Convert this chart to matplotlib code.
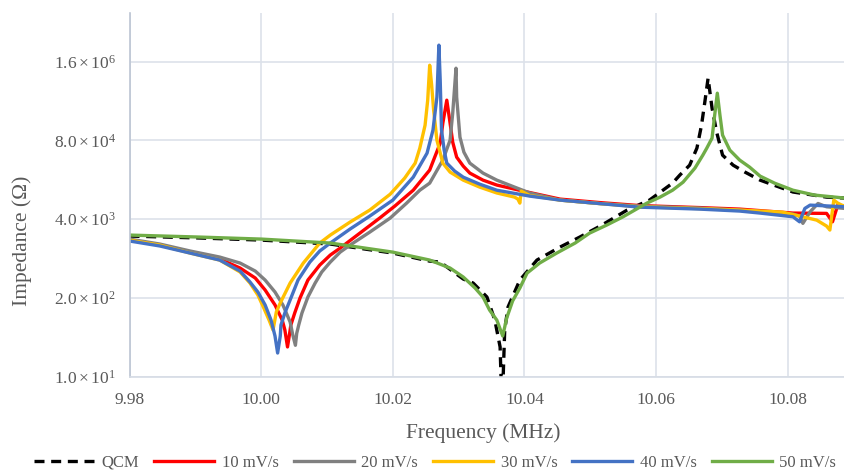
import matplotlib
matplotlib.use('agg')
import matplotlib.pyplot as plt

plt.rcParams['font.family'] = ['Liberation Serif', 'DejaVu Serif']
plt.rcParams['mathtext.fontset'] = 'custom'
plt.rcParams['mathtext.rm'] = 'Liberation Serif'
plt.rcParams['mathtext.it'] = 'Liberation Serif:italic'

# frequency (MHz) / impedance (ohm)
qcm_f = [9.9800, 9.9907, 10.0001, 10.0105, 10.0200, 10.0256, 10.0272, 10.0307, 10.0322, 10.0343,
         10.0355, 10.0363, 10.0365, 10.0367, 10.0370, 10.0375, 10.0393, 10.0419, 10.0454, 10.0484,
         10.0515, 10.0556, 10.0590, 10.0625, 10.0636, 10.0651, 10.0662, 10.0669, 10.0674, 10.0679,
         10.0685, 10.0692, 10.0701, 10.0717, 10.0735, 10.0758, 10.0808, 10.0859, 10.0887]
qcm_z = [2100, 1950, 1800, 1550, 1100, 810, 781, 410, 352, 207,
         86, 31, 6, 6, 59, 141, 394, 843, 1380, 2020,
         3070, 5640, 8240, 1.57e4, 2.13e4, 3.11e4, 5.94e4, 1.42e5, 3.41e5, 8.49e5,
         2.72e5, 1.09e5, 4.55e4, 3.11e4, 2.39e4, 1.76e4, 1.12e4, 9.23e3, 8.89e3]

r10_f = [9.9800, 9.9846, 9.9892, 9.9937, 9.9968, 9.9991, 10.0006, 10.0021, 10.0032, 10.0036,
         10.0040, 10.0044, 10.0045, 10.0051, 10.0059, 10.0071, 10.0089, 10.0105, 10.0120, 10.0150,
         10.0180, 10.0203, 10.0231, 10.0256, 10.0272, 10.0276, 10.0282, 10.0287, 10.0291, 10.0297,
         10.0307, 10.0317, 10.0337, 10.0358, 10.0398, 10.0454, 10.0515, 10.0575, 10.0666, 10.0727,
         10.0808, 10.0859, 10.0868, 10.0876, 10.0887]
r10_z = [1800, 1490, 1140, 876, 622, 426, 270, 153, 86, 59,
         31, 59, 71, 113, 199, 394, 697, 1020, 1330, 2350,
         4160, 6560, 1.20e4, 2.58e4, 7.19e4, 1.54e5, 3.68e5, 1.54e5, 7.46e4, 4.22e4,
         3.00e4, 2.30e4, 1.76e4, 1.46e4, 1.16e4, 8.56e3, 7.49e3, 6.69e3, 6.20e3, 5.85e3,
         5.03e3, 4.97e3, 3.61e3, 6.81e3, 6.39e3]

r20_f = [9.9800, 9.9846, 9.9892, 9.9937, 9.9968, 9.9991, 10.0006, 10.0021, 10.0033, 10.0044,
         10.0048, 10.0052, 10.0054, 10.0057, 10.0062, 10.0071, 10.0082, 10.0092, 10.0105, 10.0120,
         10.0135, 10.0165, 10.0196, 10.0221, 10.0241, 10.0256, 10.0276, 10.0287, 10.0291, 10.0296,
         10.0297, 10.0302, 10.0308, 10.0317, 10.0337, 10.0358, 10.0385, 10.0408, 10.0454, 10.0515,
         10.0575, 10.0666, 10.0727, 10.0808, 10.0818, 10.0823, 10.0834, 10.0846, 10.0859, 10.0887]
r20_z = [1870, 1550, 1190, 945, 752, 555, 394, 250, 153, 80,
         49, 33, 52, 71, 113, 207, 352, 535, 781, 1140,
         1490, 2440, 4160, 7350, 1.20e4, 1.57e4, 3.77e4, 8.05e4, 2.25e5, 1.24e6,
         4.13e5, 9.03e4, 5.10e4, 3.36e4, 2.30e4, 1.76e4, 1.35e4, 1.08e4, 8.24e3, 7.21e3,
         6.56e3, 6.08e3, 5.64e3, 4.84e3, 4.49e3, 3.40e3, 5.28e3, 7.25e3, 6.39e3, 6.00e3]

r30_f = [9.9800, 9.9846, 9.9892, 9.9937, 9.9968, 9.9983, 9.9995, 10.0004, 10.0012, 10.0018,
         10.0023, 10.0029, 10.0044, 10.0064, 10.0089, 10.0105, 10.0135, 10.0165, 10.0196, 10.0218,
         10.0234, 10.0241, 10.0249, 10.0253, 10.0256, 10.0259, 10.0262, 10.0267, 10.0276, 10.0287,
         10.0307, 10.0332, 10.0358, 10.0385, 10.0390, 10.0393, 10.0395, 10.0408, 10.0454, 10.0515,
         10.0575, 10.0666, 10.0727, 10.0792, 10.0818, 10.0844, 10.0859, 10.0864, 10.0870, 10.0876,
         10.0882, 10.0887]
r30_z = [1800, 1490, 1100, 843, 535, 352, 223, 136, 86, 59,
         117, 165, 352, 752, 1610, 2180, 3570, 5640, 1.03e4, 1.90e4,
         3.36e4, 5.94e4, 1.42e5, 3.68e5, 1.39e6, 6.51e5, 2.52e5, 8.05e4, 3.36e4, 2.39e4,
         1.76e4, 1.35e4, 1.08e4, 9.23e3, 8.56e3, 7.35e3, 1.16e4, 9.8e3, 8.24e3, 7.21e3,
         6.39e3, 5.97e3, 5.64e3, 5.22e3, 4.49e3, 3.85e3, 3.07e3, 2.64e3, 8.24e3, 7.35e3,
         6.81e3, 6.56e3]

r40_f = [9.9800, 9.9846, 9.9892, 9.9937, 9.9968, 9.9983, 9.9995, 10.0006, 10.0015, 10.0021,
         10.0025, 10.0029, 10.0030, 10.0036, 10.0044, 10.0056, 10.0074, 10.0089, 10.0105, 10.0135,
         10.0165, 10.0200, 10.0231, 10.0252, 10.0261, 10.0267, 10.0270, 10.0272, 10.0274, 10.0278,
         10.0282, 10.0294, 10.0307, 10.0332, 10.0358, 10.0408, 10.0454, 10.0515, 10.0575, 10.0666,
         10.0727, 10.0758, 10.0808, 10.0818, 10.0826, 10.0834, 10.0887]
r40_z = [1740, 1440, 1100, 843, 555, 366, 250, 153, 86, 47,
         24.6, 47, 71, 113, 185, 394, 781, 1190, 1610, 2740,
         4490, 8240, 1.97e4, 4.91e4, 1.18e5, 4.13e5, 2.98e6, 7.87e5, 1.18e5, 5.51e4,
         3.36e4, 2.48e4, 1.97e4, 1.51e4, 1.20e4, 9.59e3, 8.24e3, 7.21e3, 6.30e3, 5.85e3,
         5.43e3, 5.03e3, 4.37e3, 3.61e3, 6.00e3, 6.81e3, 6.39e3]

r50_f = [9.9800, 9.9907, 10.0001, 10.0105, 10.0200, 10.0256, 10.0287, 10.0307, 10.0325, 10.0337,
         10.0347, 10.0358, 10.0367, 10.0373, 10.0382, 10.0393, 10.0404, 10.0423, 10.0449, 10.0477,
         10.0499, 10.0525, 10.0549, 10.0586, 10.0606, 10.0625, 10.0641, 10.0659, 10.0671, 10.0677,
         10.0685, 10.0689, 10.0693, 10.0697, 10.0701, 10.0712, 10.0727, 10.0742, 10.0758, 10.0780,
         10.0808, 10.0841, 10.0887]
r50_z = [2180, 2020, 1870, 1610, 1140, 843, 622, 442, 291, 207,
         126, 86, 47, 93, 178, 291, 514, 752, 1100, 1610,
         2350, 3190, 4320, 7350, 9230, 1.20e4, 1.63e4, 2.78e4, 4.55e4, 5.94e4,
         8.69e4, 2.08e5, 4.80e5, 2.08e5, 9.74e4, 5.51e4, 3.77e4, 2.89e4, 2.05e4, 1.57e4,
         1.20e4, 9.96e3, 8.89e3]

ytick_vals = [10, 200, 4000, 80000, 1.6e6]
ytick_labels = [r'$\mathregular{1.0\times10^{1}}$', r'$\mathregular{2.0\times10^{2}}$',
                r'$\mathregular{4.0\times10^{3}}$', r'$\mathregular{8.0\times10^{4}}$',
                r'$\mathregular{1.6\times10^{6}}$']
xtick_vals = [9.98, 10.00, 10.02, 10.04, 10.06, 10.08]
xtick_labels = ['9.98', '10.00', '10.02', '10.04', '10.06', '10.08']

fig = plt.figure(figsize=(8.45, 4.72), dpi=100)
ax = fig.add_axes([0.1533, 0.2019, 0.8467, 0.7699])

lw = 2.4
ax.plot(qcm_f, qcm_z, color='black', lw=lw, ls=(0, (3, 2)), label='QCM')
ax.plot(r10_f, r10_z, color='#FF0000', lw=lw, label='10 mV/s')
ax.plot(r20_f, r20_z, color='#808080', lw=lw, label='20 mV/s')
ax.plot(r30_f, r30_z, color='#FFC000', lw=lw, label='30 mV/s')
ax.plot(r40_f, r40_z, color='#4472C4', lw=lw, label='40 mV/s')
ax.plot(r50_f, r50_z, color='#70AD47', lw=lw, label='50 mV/s')

ax.set_yscale('log')
ax.set_ylim(10, 1e7)
ax.set_xlim(9.98, 10.0887)
ax.yaxis.set_major_locator(matplotlib.ticker.FixedLocator(ytick_vals))
ax.yaxis.set_minor_locator(matplotlib.ticker.NullLocator())
ax.set_yticklabels(ytick_labels)
ax.set_xticks(xtick_vals)
ax.set_xticklabels(xtick_labels)
ax.tick_params(length=0, labelsize=12.5, colors='#595959')
ax.tick_params(axis='x', pad=11)
ax.tick_params(axis='y', pad=10)
ax.grid(True, color='#DDE2EA', lw=1.2)
ax.set_axisbelow(True)
for s in ['top', 'right']:
    ax.spines[s].set_visible(False)
ax.spines['left'].set_color('#BCC5D3')
ax.spines['bottom'].set_color('#D6DCE5')
ax.spines['left'].set_linewidth(1.2)
ax.spines['bottom'].set_linewidth(1.2)

ax.set_xlabel('Frequency (MHz)', fontsize=15.5, color='#595959')
ax.set_ylabel('Impedance (Ω)', fontsize=15.5, color='#595959')
ax.xaxis.set_label_coords(0.494, -0.128)
ax.yaxis.set_label_coords(-0.137, 0.373)

fig.legend(loc='center', bbox_to_anchor=(0.515, 0.02), ncol=6, frameon=False,
           fontsize=12, handlelength=3.6, columnspacing=0.9, handletextpad=0.45,
           labelcolor='#595959')

fig.savefig('out.png', dpi=100)
